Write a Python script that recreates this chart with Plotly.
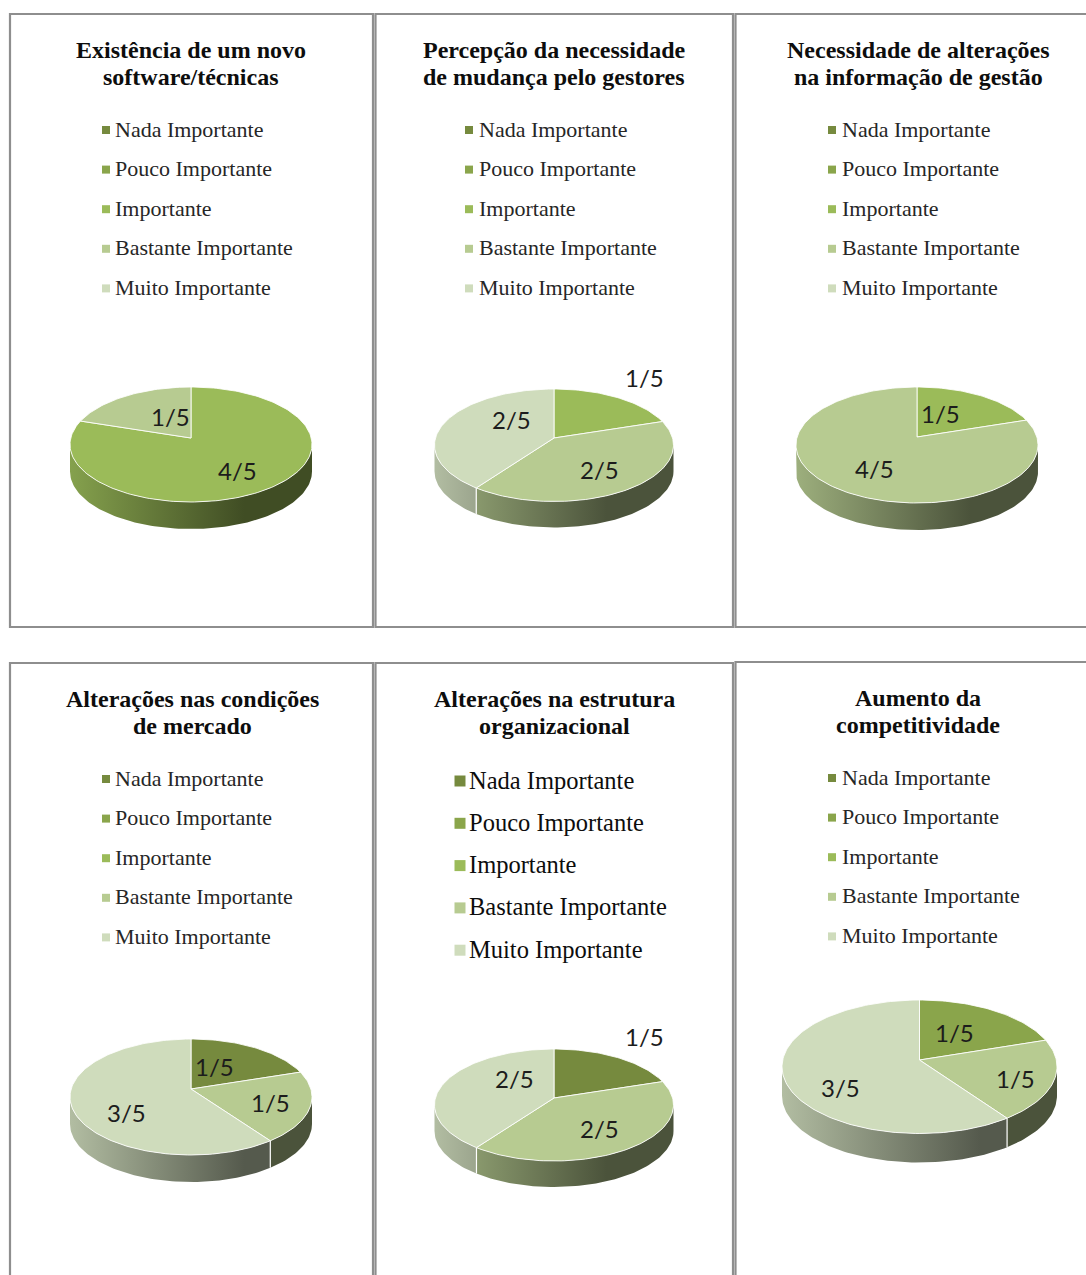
import math
import plotly.graph_objects as go

# Response categories, shared by all six charts
categories = ["Nada Importante", "Pouco Importante", "Importante",
              "Bastante Importante", "Muito Importante"]

titles = [
    ["Existência de um novo", "software/técnicas"],
    ["Percepção da necessidade", "de mudança pelo gestores"],
    ["Necessidade de alterações", "na informação de gestão"],
    ["Alterações nas condições", "de mercado"],
    ["Alterações na estrutura", "organizacional"],
    ["Aumento da", "competitividade"],
]

# Answers out of five, per chart, in category order
existencia_software = [0, 0, 4, 1, 0]
percepcao_mudanca = [0, 0, 1, 2, 2]
informacao_gestao = [0, 0, 1, 4, 0]
condicoes_mercado = [1, 0, 0, 1, 3]
estrutura_organizacional = [1, 0, 0, 2, 2]
competitividade = [0, 1, 0, 1, 3]
series = [existencia_software, percepcao_mudanca, informacao_gestao,
          condicoes_mercado, estrutura_organizacional, competitividade]

palette = ["#768A3E", "#8AA54B", "#9BBB59", "#B7CB91", "#CFDCBC"]

W, H = 1086, 1275
FRAME = "#8E8E8E"

# Chart frames: x0, x1, y0, y1
frames = [
    (10, 373, 14, 627), (375.5, 733, 14, 627), (735.5, 1090, 14, 627),
    (10, 373, 663, 1290), (375.5, 733, 663, 1290), (735.5, 1090, 662, 1290),
]

# Pie geometry: centre x, apex y, top y, front y, half width, wall depth
pies = [
    (191, 438, 387, 502, 121, 27),
    (554, 438, 389, 501.5, 119.5, 26),
    (917, 437, 387, 503, 121, 27),
    (191, 1089, 1039, 1155, 121, 27),
    (554, 1098, 1049, 1161, 119.5, 26),
    (919.5, 1060, 1000, 1133.5, 137.5, 29),
]

# Where each value label sits, in drawing order of its nonzero slices
label_spots = [
    [(237, 470), (170, 416)],
    [(644, 377), (599, 469), (511, 419)],
    [(940, 413), (874, 468)],
    [(214, 1066), (270, 1102), (126, 1112)],
    [(644, 1036), (599, 1128), (514, 1078)],
    [(954, 1032), (1015, 1078), (840, 1087)],
]

# Legend blocks: marker x, text x, first row y, row step, marker size, font size, text colour
legends = [
    (106, 113, 130, 39.6, 8, 22, "#262626"),
    (469, 477, 130, 39.6, 8, 22, "#262626"),
    (832, 840, 130, 39.6, 8, 22, "#262626"),
    (106, 113, 779, 39.6, 8, 22, "#262626"),
    (460, 467, 781, 42.3, 11, 24.5, "#0d0d0d"),
    (832, 840, 778, 39.6, 8, 22, "#262626"),
]

# Centre heights of the two title lines
title_rows = [(50, 77), (50, 77), (50, 77), (699, 726), (699, 726), (698, 725)]
title_x = [191, 554, 918, 192, 554, 918]


def shade(hex_colour, factor):
    r, g, b = (int(hex_colour[i:i + 2], 16) for i in (1, 3, 5))
    return f"rgb({r * factor:.0f},{g * factor:.0f},{b * factor:.0f})"


def projector(cx, apex, top, front, half_w):
    """Map a clockwise angle (degrees from 12 o'clock) to the tilted disc."""
    p = ((front - apex) - (apex - top)) / (front - top)
    a = (front - apex) * (1 - p)
    b = half_w * math.sqrt(1 - p * p)

    def at(deg):
        t = math.radians(deg)
        s = -math.cos(t)
        d = 1 - p * s
        return cx + b * math.sin(t) / d, apex + a * s / d

    return at, p


def arc(a0, a1, step=1.5):
    n = max(2, int(abs(a1 - a0) / step) + 1)
    return [a0 + (a1 - a0) * i / (n - 1) for i in range(n)]


fig = go.Figure()
annotations = []
shapes = [
    dict(type="rect", x0=x0, x1=x1, y0=y0, y1=y1,
         line=dict(color=FRAME, width=2.2), fillcolor="white", layer="below")
    for x0, x1, y0, y1 in frames
]

for title, values, (cx, apex, top, front, half_w, depth), spots, legend, tys, tcx in zip(
        titles, series, pies, label_spots, legends, title_rows, title_x):
    at, p = projector(cx, apex, top, front, half_w)
    wall_start = math.degrees(math.acos(-p))
    wall_end = 360 - wall_start
    total = sum(values)
    left, right = cx - half_w, cx + half_w

    slices = []
    angle = 0.0
    for colour, v in zip(palette, values):
        if v:
            slices.append((colour, v, angle, angle + 360 * v / total))
            angle += 360 * v / total

    # Side wall of each slice, lit from the left
    for colour, v, a0, a1 in slices:
        lo, hi = max(a0, wall_start), min(a1, wall_end)
        if lo >= hi:
            continue
        pts = [at(a) for a in arc(lo, hi)]
        xs = [q[0] for q in pts] + [q[0] for q in reversed(pts)]
        ys = [q[1] for q in pts] + [q[1] + depth for q in reversed(pts)]
        fig.add_trace(go.Scatter(
            x=xs + xs[:1], y=ys + ys[:1], mode="lines", fill="toself",
            line=dict(width=0), hoverinfo="skip",
            fillgradient=dict(
                type="horizontal", start=left, stop=right,
                colorscale=[[0, shade(colour, 0.86)], [0.72, shade(colour, 0.41)],
                            [1, shade(colour, 0.41)]],
            ),
        ))
    # Seams where two walls meet
    for colour, v, a0, a1 in slices:
        if wall_start < a1 < wall_end and a1 < 360:
            x, y = at(a1)
            fig.add_trace(go.Scatter(x=[x, x], y=[y, y + depth], mode="lines",
                                     line=dict(color="white", width=1.2), hoverinfo="skip"))

    # Top face of each slice
    for colour, v, a0, a1 in slices:
        pts = [at(a) for a in arc(a0, a1)]
        xs = [cx] + [q[0] for q in pts] + [cx]
        ys = [apex] + [q[1] for q in pts] + [apex]
        fig.add_trace(go.Scatter(x=xs, y=ys, mode="lines", fill="toself", fillcolor=colour,
                                 line=dict(color="rgba(255,255,255,0.85)", width=1),
                                 hoverinfo="skip"))

    # Value labels taken from the slice values
    for (colour, v, a0, a1), (lx, ly) in zip(slices, spots):
        annotations.append(dict(x=lx, y=ly, text=f"{v}/{total}", showarrow=False,
                                xanchor="center", yanchor="middle",
                                font=dict(family="Lato", size=24, color="#1c1c1c")))

    # Chart title, one annotation per line
    for line, ty in zip(title, tys):
        annotations.append(dict(x=tcx, y=ty, text=f"<b>{line}</b>",
                                showarrow=False, xanchor="center", yanchor="middle",
                                font=dict(family="Liberation Serif", size=24, color="#0d0d0d")))

    # Legend block
    mx, tx, ly0, step, msize, fsize, tcolour = legend
    rows = [ly0 + step * i for i in range(len(categories))]
    fig.add_trace(go.Scatter(x=[mx] * len(categories), y=rows, mode="markers",
                             marker=dict(symbol="square", size=msize, color=palette, line=dict(width=0)),
                             hoverinfo="skip"))
    for name, ry in zip(categories, rows):
        annotations.append(dict(x=tx, y=ry - 1, text=name, showarrow=False,
                                xanchor="left", yanchor="middle",
                                font=dict(family="Liberation Serif", size=fsize, color=tcolour)))

fig.update_layout(
    width=W, height=H, margin=dict(l=0, r=0, t=0, b=0),
    paper_bgcolor="white", plot_bgcolor="white", showlegend=False,
    xaxis=dict(range=[0, W], visible=False, fixedrange=True),
    yaxis=dict(range=[H, 0], visible=False, fixedrange=True),
    shapes=shapes, annotations=annotations,
)
fig.write_html("out.html", config=dict(displayModeBar=False))
